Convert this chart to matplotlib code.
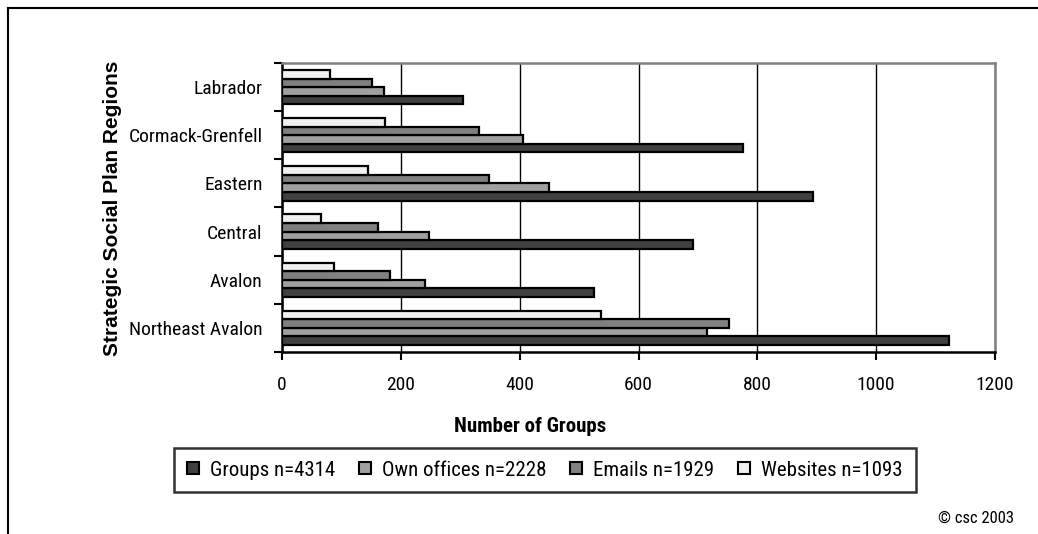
import matplotlib
matplotlib.use("Agg")
import matplotlib.pyplot as plt
from matplotlib.lines import Line2D
from matplotlib.patches import Patch
import numpy as np

# ---- data ----
regions = ["Northeast Avalon", "Avalon", "Central", "Eastern", "Cormack-Grenfell", "Labrador"]
groups = [1122, 525, 692, 894, 776, 304]
own_offices = [716, 241, 248, 450, 406, 171]
emails = [753, 181, 161, 349, 332, 151]
websites = [537, 87, 66, 144, 174, 80]
series_labels = ["Groups n=4314", "Own offices n=2228", "Emails n=1929", "Websites n=1093"]
x_ticks = [0, 200, 400, 600, 800, 1000, 1200]

colors = ["#404040", "#A0A0A0", "#808080", "#F0F0F0"]

NARROW = ["Roboto Condensed", "DejaVu Sans"]
BOLD = ["Liberation Sans", "DejaVu Sans"]
FS = 14

W, H = 1038, 534
fig = plt.figure(figsize=(W / 100, H / 100), dpi=100)
fig.patch.set_facecolor("white")

ax = fig.add_axes([282 / W, (H - 352) / H, (995 - 282) / W, (352 - 63) / H])

y = np.arange(len(regions))
h = 0.178
all_series = [groups, own_offices, emails, websites]
for k, (vals, c, lab) in enumerate(zip(all_series, colors, series_labels)):
    ax.barh(y + (k - 1.5) * h, vals, height=h, color=c, edgecolor="black",
            linewidth=1.6, label=lab, zorder=3)

ax.set_xlim(0, 1200)
ax.set_ylim(-0.5, len(regions) - 0.5)
ax.set_xticks(x_ticks)
ax.set_xticklabels([str(t) for t in x_ticks], fontfamily=NARROW, fontsize=FS)
ax.xaxis.grid(True, color="black", linewidth=1.0, zorder=0)
ax.set_axisbelow(True)

ax.set_yticks(np.arange(-0.5, len(regions), 1.0))
ax.set_yticklabels([])
ax.set_yticks(y, minor=True)
ax.set_yticklabels(regions, minor=True, fontfamily=NARROW, fontsize=FS)
ax.tick_params(axis="y", which="minor", length=0, pad=14)
ax.tick_params(axis="y", which="major", length=6, width=1.5, direction="out")
ax.tick_params(axis="x", which="major", length=6, width=1.5, direction="out", pad=11)

for s in ("left", "bottom"):
    ax.spines[s].set_color("black")
    ax.spines[s].set_linewidth(1.8)
for s in ("top", "right"):
    ax.spines[s].set_color("#808080")
    ax.spines[s].set_linewidth(1.8)

fig.text(530 / W, (H - 426) / H, "Number of Groups", ha="center", va="center",
         fontfamily=NARROW, fontsize=15, fontweight="bold")
fig.text(113 / W, (H - 208) / H, "Strategic Social Plan Regions", rotation=90,
         ha="center", va="center", fontfamily=BOLD, fontsize=15, fontweight=700)

handles = [Patch(facecolor=c, edgecolor="black", linewidth=1.5) for c in colors]
leg = fig.legend(handles, series_labels, ncol=4, loc="center",
                 bbox_to_anchor=(545 / W, (H - 470) / H),
                 prop={"family": NARROW, "size": 15}, frameon=True, fancybox=False,
                 edgecolor="black", handlelength=0.55, handleheight=0.55,
                 handletextpad=0.55, columnspacing=1.15, borderpad=0.62, borderaxespad=0)
leg.get_frame().set_linewidth(1.8)

fig.text(1014 / W, (H - 518) / H, "© csc 2003", ha="right", va="center",
         fontfamily=NARROW, fontsize=12)

# outer frame
fig.add_artist(Line2D([8 / W, 8 / W], [0, (H - 8) / H], color="black", linewidth=1.5,
                      transform=fig.transFigure))
fig.add_artist(Line2D([8 / W, 1], [(H - 8) / H, (H - 8) / H], color="black", linewidth=1.5,
                      transform=fig.transFigure))

fig.savefig("out.png", dpi=100)
